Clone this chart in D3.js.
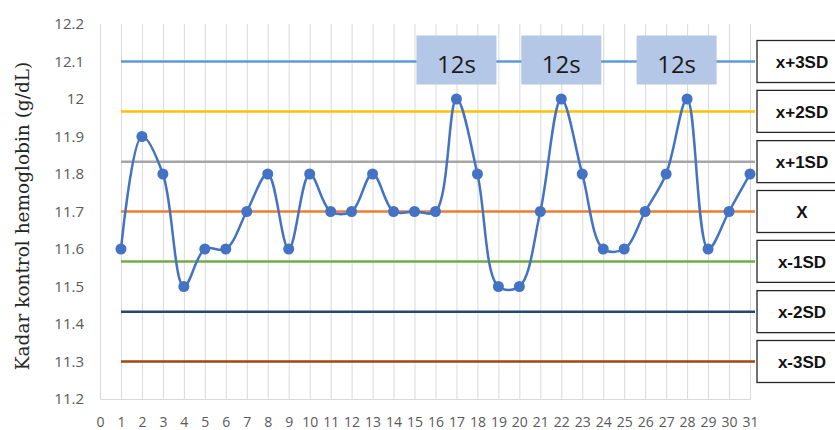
<!DOCTYPE html>
<html>
<head>
<meta charset="utf-8">
<script src="https://cdn.jsdelivr.net/npm/d3@7/dist/d3.min.js"></script>
<style>
  body { margin: 0; background: #fff; }
</style>
</head>
<body>
<div id="chart"></div>
<script>
// Data: run number and hemoglobin control value
const runs = d3.range(1, 32);
const hbValues = [11.6, 11.9, 11.8, 11.5, 11.6, 11.6, 11.7, 11.8, 11.6, 11.8,
  11.7, 11.7, 11.8, 11.7, 11.7, 11.7, 12.0, 11.8, 11.5, 11.5,
  11.7, 12.0, 11.8, 11.6, 11.6, 11.7, 11.8, 12.0, 11.6, 11.7, 11.8];

// Control limits (mean 11.7, SD ~0.133)
const limitLabels = ["x+3SD", "x+2SD", "x+1SD", "X", "x-1SD", "x-2SD", "x-3SD"];
const limitValues = [12.1, 11.967, 11.833, 11.7, 11.567, 11.433, 11.3];
const limitColors = ["#5B9BD5", "#FFC000", "#A5A5A5", "#ED7D31", "#70AD47", "#264478", "#9E480E"];

// Westgard 1-2s violation annotations
const ruleLabels = ["12s", "12s", "12s"];
const ruleRuns = [17, 22, 27.5];

const yTicks = d3.range(0, 11).map(i => +(11.2 + i * 0.1).toFixed(1));
const xTicks = d3.range(0, 32);

const W = 835, H = 430;

const svg = d3.select("#chart")
  .append("svg")
  .attr("width", W)
  .attr("height", H)
  .style("font-family", "'Open Sans', sans-serif");

// Scales
const x = d3.scaleLinear().domain([0, 31]).range([100, 750]);
const y = d3.scaleLinear().domain([11.2, 12.2]).range([399, 24]);

// X axis with vertical gridlines
const xAxis = svg.append("g")
  .attr("transform", `translate(0,${y(11.2)})`)
  .call(d3.axisBottom(x)
    .tickValues(xTicks)
    .tickSize(-(y(11.2) - y(12.2)))
    .tickPadding(18)
    .tickFormat(d3.format("d")));
xAxis.select(".domain").attr("stroke", "#d9d9d9");
xAxis.selectAll(".tick line").attr("stroke", "#d9d9d9");
xAxis.selectAll("text")
  .attr("fill", "#595959")
  .style("font-size", "14px")
  .style("font-family", "'Open Sans', sans-serif");

// Y axis (labels only)
const yAxis = svg.append("g")
  .attr("transform", `translate(${x(0)},0)`)
  .call(d3.axisLeft(y).tickValues(yTicks).tickSize(0).tickPadding(16)
    .tickFormat(d => d3.format("")(d)));
yAxis.select(".domain").remove();
yAxis.selectAll("text")
  .attr("fill", "#595959")
  .style("font-size", "15px")
  .style("font-family", "'Open Sans', sans-serif");

// Y axis title
svg.append("text")
  .attr("transform", "translate(22,216) rotate(-90)")
  .attr("text-anchor", "middle")
  .attr("dominant-baseline", "central")
  .style("font-family", "'DejaVu Serif', serif")
  .style("font-size", "18.5px")
  .attr("fill", "#262626")
  .text("Kadar kontrol hemoglobin (g/dL)");

// Control limit lines
svg.selectAll(".limit")
  .data(limitValues)
  .enter()
  .append("line")
  .attr("class", "limit")
  .attr("x1", x(1))
  .attr("x2", x(31) + 5)
  .attr("y1", d => y(d))
  .attr("y2", d => y(d))
  .attr("stroke", (d, i) => limitColors[i])
  .attr("stroke-width", 2.5);

// Annotation boxes (12s)
const rules = svg.selectAll(".rule")
  .data(ruleRuns)
  .enter()
  .append("g")
  .attr("class", "rule")
  .attr("transform", d => `translate(${x(d)},${y(12.1)})`);

rules.append("rect")
  .attr("x", -40)
  .attr("y", -26)
  .attr("width", 80)
  .attr("height", 49)
  .attr("fill", "#B4C7E7");

rules.append("text")
  .attr("y", 2)
  .attr("text-anchor", "middle")
  .attr("dominant-baseline", "central")
  .style("font-size", "24px")
  .attr("fill", "#1a1a1a")
  .text((d, i) => ruleLabels[i]);

// Data line
const points = runs.map((r, i) => ({ run: r, value: hbValues[i] }));

svg.append("path")
  .datum(points)
  .attr("fill", "none")
  .attr("stroke", "#4472C4")
  .attr("stroke-width", 2.5)
  .attr("d", d3.line()
    .x(d => x(d.run))
    .y(d => y(d.value))
    .curve(d3.curveCatmullRom.alpha(0.5)));

svg.selectAll(".dot")
  .data(points)
  .enter()
  .append("circle")
  .attr("class", "dot")
  .attr("cx", d => x(d.run))
  .attr("cy", d => y(d.value))
  .attr("r", 5.5)
  .attr("fill", "#4472C4");

// Limit label boxes on the right
const labels = svg.selectAll(".limit-label")
  .data(limitValues)
  .enter()
  .append("g")
  .attr("class", "limit-label")
  .attr("transform", d => `translate(757,${y(d)})`);

labels.append("rect")
  .attr("x", 0)
  .attr("y", -21)
  .attr("width", 92)
  .attr("height", 42)
  .attr("fill", "#fff")
  .attr("stroke", "#262626")
  .attr("stroke-width", 1.3);

labels.append("text")
  .attr("x", 45)
  .attr("y", 1)
  .attr("text-anchor", "middle")
  .attr("dominant-baseline", "central")
  .style("font-family", "'Liberation Sans', Arial, sans-serif")
  .style("font-weight", "bold")
  .style("font-size", "17px")
  .attr("fill", "#111")
  .text((d, i) => limitLabels[i]);
</script>
</body>
</html>
